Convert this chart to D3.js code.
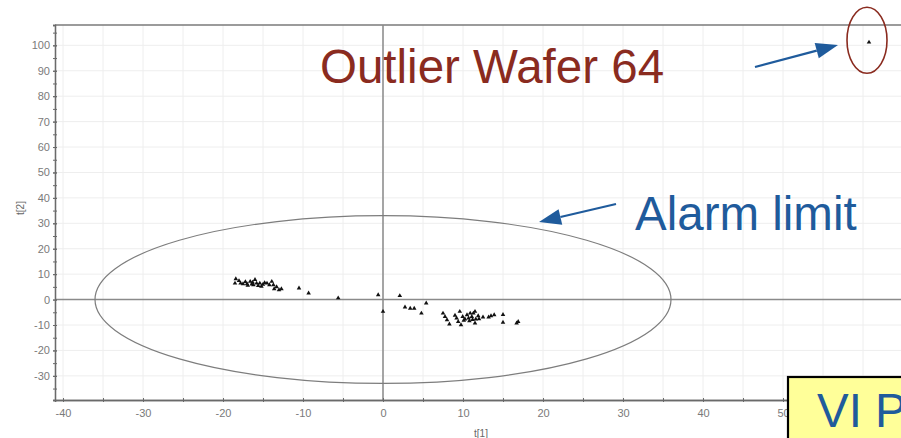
<!DOCTYPE html>
<html>
<head>
<meta charset="utf-8">
<script src="https://cdn.jsdelivr.net/npm/d3@7"></script>
<style>
  html, body { margin: 0; padding: 0; background: #fff; }
  svg { display: block; font-family: "Liberation Sans", Arial, sans-serif; }
</style>
</head>
<body>
<svg id="chart" width="901" height="438"></svg>
<script>
// Score scatter t[1] vs t[2] with Hotelling T2 alarm ellipse
const scoreT1 = [
  -18.4, -18.5, -17.8, -17.5, -17.0, -16.6, -16.4, -16.2, -16.0, -15.8,
  -15.6, -15.4, -15.0, -14.5, -14.2, -13.9, -13.7, -13.6, -13.3, -13.0,
  -12.7, -17.2, -16.9, -16.3, -15.2, -14.8, -18.0, -10.5, -9.3, -5.6,
  -0.6, 0.0, 2.1, 2.75, 3.4, 3.9, 4.8, 5.4, 7.5, 7.75,
  8.0, 8.3, 9.2, 9.4, 9.6, 9.75, 9.96, 10.25, 10.5, 10.7,
  10.9, 11.1, 11.3, 11.5, 11.6, 11.5, 11.9, 12.5, 13.2, 13.5,
  13.9, 15.0, 15.0, 16.7, 16.9, 10.1, 10.8, 11.2, 9.0, 12.0
];
const scoreT2 = [
  8.1, 6.4, 6.4, 6.2, 6.2, 7.1, 6.1, 5.8, 7.8, 6.4,
  5.5, 6.4, 6.0, 6.4, 5.8, 7.1, 5.8, 4.2, 5.0, 3.8,
  4.2, 7.0, 5.6, 6.8, 5.2, 6.6, 7.4, 4.5, 2.5, 0.6,
  1.8, -4.7, 1.5, -3.0, -3.5, -3.5, -5.4, -1.4, -5.4, -6.7,
  -8.0, -9.7, -7.3, -8.7, -4.7, -10.0, -6.7, -7.7, -6.0, -7.3,
  -5.4, -6.7, -5.4, -4.7, -7.7, -9.3, -6.4, -6.9, -6.9, -6.4,
  -6.0, -5.9, -9.0, -9.3, -8.7, -8.2, -8.4, -7.9, -6.2, -7.6
];
const outlierPoint = [60.75, 101.2];
const ellipseRadii = [36, 33];
const xTickLabels = [-40, -30, -20, -10, 0, 10, 20, 30, 40, 50];
const yTickLabels = [-30, -20, -10, 0, 10, 20, 30, 40, 50, 60, 70, 80, 90, 100];
const xMinorTicks = d3.range(-40, 66, 5);
const yMinorTicks = d3.range(-35, 106, 5);
const axisTitles = ["t[1]", "t[2]"];
const calloutTexts = ["Outlier Wafer 64", "Alarm limit", "VI P"];

const svg = d3.select("#chart");
const plotLeft = 55, plotTop = 25, plotBottom = 400, plotRight = 903;

const x = d3.scaleLinear().domain([-41, 65]).range([plotLeft, plotRight]);
const y = d3.scaleLinear().domain([-39.5, 108]).range([plotBottom, plotTop]);

// grid
const grid = svg.append("g").attr("stroke", "#eeeeee").attr("stroke-width", 1);
grid.selectAll(".gv").data(xMinorTicks).join("line")
  .attr("x1", d => x(d)).attr("x2", d => x(d))
  .attr("y1", plotTop).attr("y2", plotBottom);
grid.selectAll(".gh").data(yTickLabels).join("line")
  .attr("x1", plotLeft).attr("x2", plotRight)
  .attr("y1", d => y(d)).attr("y2", d => y(d));

// frame top line
svg.append("line").attr("x1", plotLeft).attr("x2", plotRight).attr("y1", plotTop).attr("y2", plotTop)
  .attr("stroke", "#7a7a7a").attr("stroke-width", 1.5);

// zero lines
svg.append("line").attr("x1", x(0)).attr("x2", x(0)).attr("y1", plotTop).attr("y2", plotBottom)
  .attr("stroke", "#8a8a8a").attr("stroke-width", 1.5);
svg.append("line").attr("x1", plotLeft).attr("x2", plotRight).attr("y1", y(0)).attr("y2", y(0))
  .attr("stroke", "#8a8a8a").attr("stroke-width", 1.5);

// axes
function styleAxis(g, horizontal) {
  g.select(".domain").attr("stroke", "#6a6a6a").attr("stroke-width", 1.3);
  g.selectAll(".tick line").attr("stroke", "#6a6a6a");
  if (horizontal) g.selectAll(".tick line").attr("y1", -2).attr("y2", 2);
  else g.selectAll(".tick line").attr("x1", -2).attr("x2", 2);
  g.selectAll(".tick text").attr("fill", "#7a7a7a").attr("font-size", 11)
    .attr("font-family", "Liberation Sans, Arial, sans-serif");
}

const yAxisMinor = svg.append("g").attr("transform", `translate(${plotLeft},0)`)
  .call(d3.axisLeft(y).tickValues(yMinorTicks).tickSize(2).tickFormat(""));
styleAxis(yAxisMinor, false);
const yAxis = svg.append("g").attr("transform", `translate(${plotLeft},0)`)
  .call(d3.axisLeft(y).tickValues(yTickLabels).tickSize(2).tickPadding(3).tickFormat(d => String(d)));
styleAxis(yAxis, false);

const xAxisMinor = svg.append("g").attr("transform", `translate(0,${plotBottom})`)
  .call(d3.axisBottom(x).tickValues(xMinorTicks).tickSize(2).tickFormat(""));
styleAxis(xAxisMinor, true);
const xAxis = svg.append("g").attr("transform", `translate(0,${plotBottom})`)
  .call(d3.axisBottom(x).tickValues(xTickLabels).tickSize(2).tickPadding(7).tickFormat(d => String(d)));
styleAxis(xAxis, true);

// axis titles
svg.append("text").attr("x", 481).attr("y", 437).attr("text-anchor", "middle")
  .attr("font-size", 10).attr("fill", "#666").text(axisTitles[0]);
svg.append("text").attr("transform", "translate(24,208) rotate(-90)").attr("text-anchor", "middle")
  .attr("font-size", 10).attr("fill", "#666").text(axisTitles[1]);

// alarm ellipse
svg.append("ellipse")
  .attr("cx", x(0)).attr("cy", y(0))
  .attr("rx", x(ellipseRadii[0]) - x(0))
  .attr("ry", y(0) - y(ellipseRadii[1]))
  .attr("fill", "none").attr("stroke", "#7d7d7d").attr("stroke-width", 1.2);

// score points
const tri = d3.symbol().type(d3.symbolTriangle).size(9);
const pts = scoreT1.map((v, i) => [v, scoreT2[i]]).concat([outlierPoint]);
svg.append("g").selectAll("path").data(pts).join("path")
  .attr("d", tri)
  .attr("transform", d => `translate(${x(d[0])},${y(d[1])})`)
  .attr("fill", "#111");

// callouts
const red = "#8a2b1f", blue = "#1f5b9c";
svg.append("text").attr("x", 320).attr("y", 83).attr("font-size", 47.5)
  .attr("fill", red).text(calloutTexts[0]);
svg.append("text").attr("x", 635).attr("y", 230).attr("font-size", 47.5)
  .attr("fill", blue).text(calloutTexts[1]);

svg.append("ellipse")
  .attr("cx", x(outlierPoint[0]) - 2).attr("cy", y(outlierPoint[1]) - 2)
  .attr("rx", 20).attr("ry", 33)
  .attr("fill", "none").attr("stroke", red).attr("stroke-width", 1.6);

function arrow(x0, y0, x1, y1) {
  const ang = Math.atan2(y1 - y0, x1 - x0);
  const len = 22, half = 8;
  const bx = x1 - len * Math.cos(ang), by = y1 - len * Math.sin(ang);
  svg.append("line").attr("x1", x0).attr("y1", y0).attr("x2", bx).attr("y2", by)
    .attr("stroke", blue).attr("stroke-width", 2.2);
  const px = -Math.sin(ang) * half, py = Math.cos(ang) * half;
  svg.append("path")
    .attr("d", `M${x1},${y1}L${bx + px},${by + py}L${bx - px},${by - py}Z`)
    .attr("fill", blue);
}
arrow(616, 204, 539, 222);
arrow(755, 67, 838, 45);

// yellow box
svg.append("rect").attr("x", 788).attr("y", 377).attr("width", 130).attr("height", 80)
  .attr("fill", "#ffff99").attr("stroke", "#000").attr("stroke-width", 2.2);
svg.append("text").attr("x", 817).attr("y", 427).attr("font-size", 47.5)
  .attr("fill", blue).text(calloutTexts[2]);
</script>
</body>
</html>
